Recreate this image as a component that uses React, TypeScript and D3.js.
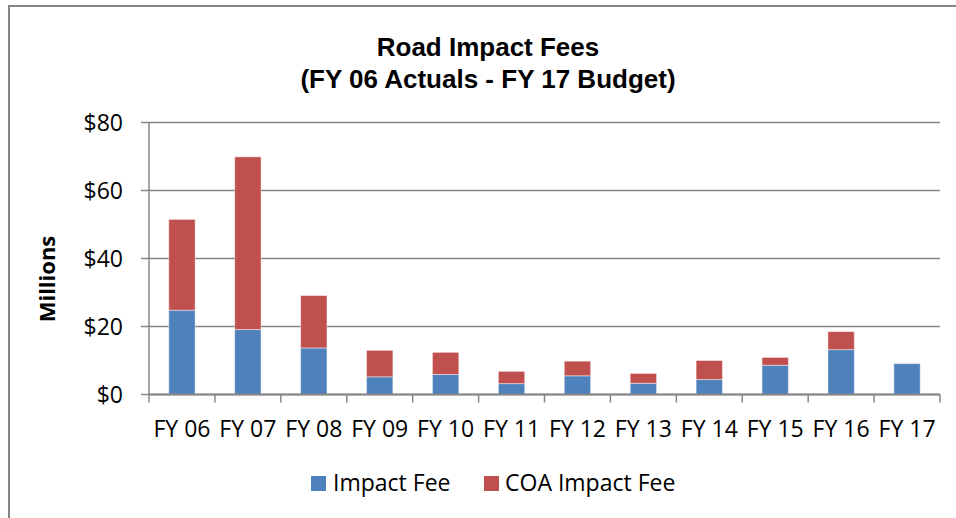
import React from 'react';
import * as d3 from 'd3';

const YEARS = ['FY 06', 'FY 07', 'FY 08', 'FY 09', 'FY 10', 'FY 11', 'FY 12', 'FY 13', 'FY 14', 'FY 15', 'FY 16', 'FY 17'];
const IMPACT_FEE = [24.8, 19.1, 13.7, 5.2, 5.9, 3.2, 5.5, 3.3, 4.4, 8.6, 13.2, 9.1];
const COA_IMPACT_FEE = [26.7, 50.8, 15.4, 7.8, 6.5, 3.6, 4.3, 2.9, 5.6, 2.3, 5.3, 0];
const Y_TICKS = [0, 20, 40, 60, 80];
const SERIES = ['Impact Fee', 'COA Impact Fee'];
const COLORS = ['#4F81BD', '#C0504D'];

const W = 956;
const H = 518;
const left = 149;
const right = 940;
const top = 122.5;
const bottom = 394.5;
const AXIS = '#868686';
const LABEL_FONT = '"Open Sans", sans-serif';

export default function App() {
  const x = d3.scaleBand<string>().domain(YEARS).range([left, right]).padding(0);
  const y = d3.scaleLinear().domain([0, 80]).range([bottom, top]);
  const barW = x.bandwidth() * 0.4;

  const rows = YEARS.map((yr, i) => ({ yr, 'Impact Fee': IMPACT_FEE[i], 'COA Impact Fee': COA_IMPACT_FEE[i] }));
  const stacked = d3.stack<any>().keys(SERIES)(rows);

  return (
    <svg width={W} height={H} style={{ position: 'absolute', left: 0, top: 0, background: '#fff' }}>
      <rect x={9} y={6} width={W} height={H} fill="#fff" stroke={AXIS} strokeWidth={2} />
      <text x={488} y={56} textAnchor="middle" fontFamily='"Liberation Sans", Arial, sans-serif' fontWeight="bold" fontSize={26}>Road Impact Fees</text>
      <text x={488} y={88} textAnchor="middle" fontFamily='"Liberation Sans", Arial, sans-serif' fontWeight="bold" fontSize={26}>(FY 06 Actuals - FY 17 Budget)</text>

      {/* gridlines + y ticks */}
      {Y_TICKS.map(t => (
        <g key={'g' + t}>
          <line x1={left - 8} x2={right} y1={y(t)} y2={y(t)} stroke={AXIS} strokeWidth={1.5} />
          <text x={123} y={y(t)} dy="0.36em" textAnchor="end" fontFamily={LABEL_FONT} fontSize={23} fill="#000">${t}</text>
        </g>
      ))}
      <line x1={left} x2={left} y1={top} y2={bottom} stroke={AXIS} strokeWidth={1.5} />

      {/* bars */}
      {stacked.map((s, si) => (
        <g key={s.key} fill={COLORS[si]}>
          {s.map((d, i) => {
            const h = y(d[0]) - y(d[1]);
            if (h <= 0) return null;
            return (
              <rect
                key={i}
                x={(x(YEARS[i]) as number) + (x.bandwidth() - barW) / 2}
                y={y(d[1])}
                width={barW}
                height={h}
                stroke="rgba(255,255,255,0.45)"
                strokeWidth={1}
              />
            );
          })}
        </g>
      ))}

      {/* x axis */}
      <line x1={left} x2={right} y1={bottom} y2={bottom} stroke={AXIS} strokeWidth={2} />
      {YEARS.map((yr, i) => (
        <line key={'t' + i} x1={x(yr) as number} x2={x(yr) as number} y1={bottom} y2={bottom + 8} stroke={AXIS} strokeWidth={1.5} />
      ))}
      <line x1={right} x2={right} y1={bottom} y2={bottom + 8} stroke={AXIS} strokeWidth={1.5} />
      {YEARS.map(yr => (
        <text key={'l' + yr} x={(x(yr) as number) + x.bandwidth() / 2} y={437} textAnchor="middle" fontFamily={LABEL_FONT} fontSize={23} fill="#000">{yr}</text>
      ))}

      <text transform={`translate(55, 279) rotate(-90)`} textAnchor="middle" fontFamily={LABEL_FONT} fontWeight="bold" fontSize={22} fill="#000">Millions</text>

      {/* legend */}
      <rect x={311} y={476} width={15} height={15} fill={COLORS[0]} />
      <text x={333} y={491} fontFamily={LABEL_FONT} fontSize={23} fill="#000">{SERIES[0]}</text>
      <rect x={484} y={476} width={15} height={15} fill={COLORS[1]} />
      <text x={505} y={491} fontFamily={LABEL_FONT} fontSize={23} fill="#000">{SERIES[1]}</text>
    </svg>
  );
}
